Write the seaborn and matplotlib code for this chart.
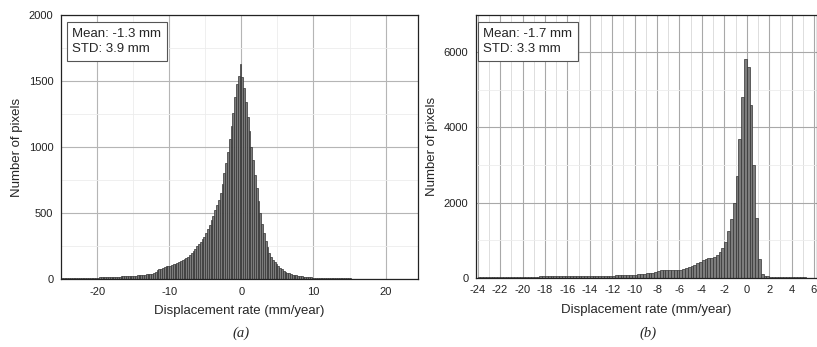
import numpy as np
import pandas as pd
import matplotlib
matplotlib.use("Agg")
import matplotlib.pyplot as plt
from matplotlib.ticker import MultipleLocator
import seaborn as sns

# histogram counts, 0.25 mm/year bins
bin_w = 0.25
a_start, a_stop = -25, 25
a_counts = [5, 6, 5, 6, 7, 6, 7, 8, 7, 8, 8, 9, 8, 9, 10, 9, 10, 11, 10, 11,
            11, 12, 12, 13, 13, 14, 14, 15, 16, 16, 17, 18, 18, 19, 20, 21, 21, 22, 23, 24,
            25, 26, 28, 28, 30, 31, 33, 34, 36, 38, 40, 42,
            55, 65, 72, 78, 80, 90, 100, 98,
            100, 105, 110, 115, 120, 128, 135, 145,
            150, 160, 170, 185, 195, 210, 230, 250,
            265, 280, 300, 320, 345, 375, 410, 445,
            480, 520, 560, 600, 650, 720, 800, 880,
            960, 1060, 1160, 1260, 1380, 1480, 1540, 1630,
            1530, 1450, 1340, 1230, 1120, 1000, 900, 790,
            690, 590, 500, 420, 350, 290, 240, 200,
            170, 145, 125, 110, 95, 82, 72, 62,
            55, 48, 42, 37, 33, 30, 27, 25,
            22, 20, 18, 16, 15, 14, 12, 11,
            10, 10, 9, 9, 8, 8, 7, 7, 6, 6, 6, 5, 5, 5, 5, 4, 4, 4, 4, 4,
            4, 3, 3, 3, 3, 3, 3, 3, 2, 2, 2, 2, 2, 2, 2, 2, 2, 2, 2, 2,
            2, 2, 2, 1, 1, 1, 1, 1, 1, 1, 1, 1, 1, 1, 1, 1, 1, 1, 1, 1]

b_start, b_stop = -24, 6
b_counts = [5, 5, 6, 6, 7, 7, 8, 8, 9, 9, 10, 10, 12, 12, 14, 15,
            16, 18, 20, 22, 25, 27, 30, 32, 35, 37, 40, 42, 44, 45, 46, 47,
            48, 47, 46, 45, 44, 43, 42, 42, 42, 43, 44, 45, 46, 48, 50, 52,
            54, 56, 58, 60, 63, 66, 70, 74,
            80, 88, 95, 105, 115, 125, 135, 150,
            170, 190, 200, 200, 195, 195, 200, 205,
            215, 235, 255, 280, 310, 340, 380, 420,
            460, 490, 510, 530, 550, 600, 680, 800,
            950, 1250, 1550, 2000, 2700, 3700, 4800, 5830,
            5600, 4600, 3000, 1600, 500, 100, 50, 35,
            25, 20, 15, 12, 10, 8, 7, 6,
            5, 4, 4, 3, 3, 2, 2, 2]

a_text = "Mean: -1.3 mm\nSTD: 3.9 mm"
b_text = "Mean: -1.7 mm\nSTD: 3.3 mm"

sns.set_theme(style="white")
plt.rcParams['font.family'] = ['Liberation Sans', 'DejaVu Sans']
plt.rcParams['axes.unicode_minus'] = False

fig = plt.figure(figsize=(8.17, 3.47), dpi=100)
ax1 = fig.add_axes([0.0747, 0.196, 0.437, 0.761])
ax2 = fig.add_axes([0.5826, 0.2, 0.4174, 0.757])


def draw(ax, start, stop, counts):
    centers = np.arange(start, stop, bin_w) + bin_w / 2
    df = pd.DataFrame({"rate": centers, "n": counts})
    sns.histplot(data=df, x="rate", weights="n", binwidth=bin_w, binrange=(start, stop), ax=ax,
                 color="#7c7c7c", edgecolor="#333333", linewidth=0.5, alpha=1)
    ax.set_axisbelow(True)
    for s in ax.spines.values():
        s.set_color("#222222")
        s.set_linewidth(0.9)
    ax.tick_params(which="both", direction="out", colors="#222222", labelsize=8, pad=2)
    ax.tick_params(which="major", length=3.5, width=0.8)
    ax.tick_params(which="minor", length=2, width=0.6)
    ax.set_xlabel("Displacement rate (mm/year)", fontsize=9.5, labelpad=6)
    ax.set_ylabel("Number of pixels", fontsize=9.5, labelpad=4)


# (a)
draw(ax1, a_start, a_stop, a_counts)
ax1.set_xlim(-25, 24.5)
ax1.set_ylim(0, 2000)
ax1.xaxis.set_major_locator(MultipleLocator(10))
ax1.xaxis.set_minor_locator(MultipleLocator(5))
ax1.yaxis.set_major_locator(MultipleLocator(500))
ax1.yaxis.set_minor_locator(MultipleLocator(250))
ax1.grid(which="major", color="#b5b5b5", linewidth=0.8)
ax1.grid(which="minor", color="#ececec", linewidth=0.6)
ax1.text(0.032, 0.95, a_text, transform=ax1.transAxes, va="top", ha="left",
         fontsize=9.5, linespacing=1.3,
         bbox=dict(boxstyle="square,pad=0.45", facecolor="white", edgecolor="#555555", linewidth=0.8))
fig.text(0.295, 0.04, "(a)", ha="center", va="center", fontsize=10.5,
         family="Liberation Serif", style="italic")

# (b)
draw(ax2, b_start, b_stop, b_counts)
ax2.set_xlim(-24.15, 6.27)
ax2.set_ylim(0, 7000)
ax2.xaxis.set_major_locator(MultipleLocator(2))
ax2.xaxis.set_minor_locator(MultipleLocator(1))
ax2.yaxis.set_major_locator(MultipleLocator(2000))
ax2.yaxis.set_minor_locator(MultipleLocator(1000))
ax2.grid(which="major", color="#a8a8a8", linewidth=0.8)
ax2.grid(which="minor", color="#d8d8d8", linewidth=0.6)
ax2.grid(which="minor", axis="y", color="#ececec", linewidth=0.6)
ax2.text(0.022, 0.95, b_text, transform=ax2.transAxes, va="top", ha="left",
         fontsize=9.5, linespacing=1.3,
         bbox=dict(boxstyle="square,pad=0.45", facecolor="white", edgecolor="#555555", linewidth=0.8))
fig.text(0.793, 0.04, "(b)", ha="center", va="center", fontsize=10.5,
         family="Liberation Serif", style="italic")

plt.savefig("out.png", dpi=100)
